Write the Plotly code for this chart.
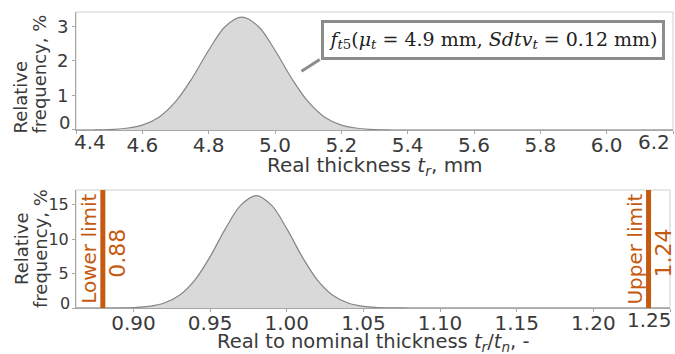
import plotly.graph_objects as go

# ---------------- data ----------------
# top: real thickness (mm) vs relative frequency (%)
x_top = [4.40, 4.45, 4.50, 4.55, 4.60, 4.65, 4.70, 4.75, 4.80, 4.85, 4.90,
         4.95, 5.00, 5.05, 5.10, 5.15, 5.20, 5.25, 5.30, 5.35, 5.40, 6.20]
y_top = [0.00, 0.00, 0.01, 0.05, 0.14, 0.37, 0.82, 1.50, 2.31, 3.00, 3.27,
         3.00, 2.31, 1.50, 0.82, 0.37, 0.14, 0.05, 0.01, 0.00, 0.00, 0.00]

# bottom: real / nominal thickness vs relative frequency (%)
x_bot = [0.86, 0.87, 0.88, 0.89, 0.90, 0.91, 0.92, 0.93, 0.94, 0.95, 0.96, 0.97, 0.98,
         0.99, 1.00, 1.01, 1.02, 1.03, 1.04, 1.05, 1.06, 1.07, 1.08, 1.09, 1.10, 1.25]
y_bot = [0.00, 0.00, 0.00, 0.02, 0.06, 0.23, 0.72, 1.85, 4.05, 7.45, 11.5, 14.9, 16.3,
         14.9, 11.5, 7.45, 4.05, 1.85, 0.72, 0.23, 0.06, 0.02, 0.00, 0.00, 0.00, 0.00]

top_xticks = [4.4, 4.6, 4.8, 5.0, 5.2, 5.4, 5.6, 5.8, 6.0, 6.2]
top_xlabels = ["4.4", "4.6", "4.8", "5.0", "5.2", "5.4", "5.6", "5.8", "6.0", "6.2"]
top_yticks = [0, 1, 2, 3]
top_ylabels = ["0", "1", "2", "3"]
bot_xticks = [0.90, 0.95, 1.00, 1.05, 1.10, 1.15, 1.20, 1.25]
bot_xlabels = ["0.90", "0.95", "1.00", "1.05", "1.10", "1.15", "1.20", "1.25"]
bot_yticks = [0, 5, 10, 15]
bot_ylabels = ["0", "5", "10", "15"]

limits = [0.88, 1.236]
limit_names = ["Lower limit", "Upper limit"]
limit_labels = ["0.88", "1.24"]

top_xtitle = "Real thickness <i>t</i><sub><i>r</i></sub>, mm"
bot_xtitle = "Real to nominal thickness <i>t</i><sub><i>r</i></sub>/<i>t</i><sub><i>n</i></sub>, -"
ytitle_lines = ["Relative", "frequency, %"]
formula = ("<i>f</i><sub><i>t</i>5</sub>(<i>μ</i><sub><i>t</i></sub> = 4.9 mm, "
           "<i>Sdtv</i><sub><i>t</i></sub> = 0.12 mm)")

# ---------------- styling ----------------
TXT = "#3a3a3a"
FILL = "#d9d9d9"
LINE = "#858585"
ORANGE = "#C55A11"
FONT = "DejaVu Sans"

fig = go.Figure()
# top
fig.add_trace(go.Scatter(x=x_top, y=y_top, mode="lines", line=dict(width=0, shape="spline"),
                         fill="tozeroy", fillcolor=FILL, xaxis="x", yaxis="y",
                         showlegend=False, hoverinfo="skip"))
fig.add_trace(go.Scatter(x=x_top, y=y_top, mode="lines", line=dict(color=LINE, width=1.2, shape="spline"),
                         xaxis="x", yaxis="y", showlegend=False))
# bottom
fig.add_trace(go.Scatter(x=x_bot, y=y_bot, mode="lines", line=dict(width=0, shape="spline"),
                         fill="tozeroy", fillcolor=FILL, xaxis="x2", yaxis="y2",
                         showlegend=False, hoverinfo="skip"))
fig.add_trace(go.Scatter(x=x_bot, y=y_bot, mode="lines", line=dict(color=LINE, width=1.2, shape="spline"),
                         xaxis="x2", yaxis="y2", showlegend=False))

def blank_ends(labels, first=False, last=False):
    out = list(labels)
    if first:
        out[0] = ""
    if last:
        out[-1] = ""
    return out

axis_common = dict(showgrid=False, zeroline=False, showline=True, linecolor="#a6a6a6", linewidth=1,
                   ticks="outside", ticklen=3, tickcolor="#a6a6a6", automargin=False,
                   tickfont=dict(family=FONT, size=20, color=TXT))

fig.update_layout(
    width=675, height=354,
    margin=dict(l=76, r=2, t=12, b=46, autoexpand=False),
    paper_bgcolor="white", plot_bgcolor="white",
    xaxis=dict(axis_common, domain=[0, 1], range=[4.4, 6.2], anchor="y",
               tickmode="array", tickvals=top_xticks, ticklabelstandoff=-6,
               ticktext=blank_ends(top_xlabels, True, True)),
    yaxis=dict(axis_common, domain=[0.6014, 1], range=[0, 3.42], anchor="x",
               tickmode="array", tickvals=top_yticks, ticktext=blank_ends(top_ylabels, True),
               tickfont=dict(family=FONT, size=18, color=TXT)),
    xaxis2=dict(axis_common, domain=[0, 0.995], range=[0.8625, 1.25], anchor="y2",
                tickmode="array", tickvals=bot_xticks, ticklabelstandoff=-6,
                ticktext=blank_ends(bot_xlabels, False, True)),
    yaxis2=dict(axis_common, domain=[0, 0.3986], range=[0, 17.1], anchor="x2",
                tickmode="array", tickvals=bot_yticks, ticktext=blank_ends(bot_ylabels, True),
                tickfont=dict(family=FONT, size=16, color=TXT)),
)

shapes = []
# light frame around both plot areas
for xr, yr in (("x", "y"), ("x2", "y2")):
    shapes.append(dict(type="rect", xref=xr + " domain", yref=yr + " domain", x0=0, x1=1, y0=0, y1=1,
                       line=dict(color="#d0d0d0", width=1), layer="below"))
# limit lines
for v in limits:
    shapes.append(dict(type="line", xref="x2", yref="y2 domain", x0=v, x1=v, y0=0, y1=1,
                       line=dict(color=ORANGE, width=5)))
# callout pointer
shapes.append(dict(type="line", xref="x", yref="y", x0=5.135, y0=2.04, x1=5.08, y1=1.70,
                   line=dict(color="#8c8c8c", width=3)))
fig.update_layout(shapes=shapes)

ann = []
# edge tick labels (shifted inward, as in the original)
ann.append(dict(text=top_xlabels[0], xref="x", yref="y domain", x=top_xticks[0], y=0,
                xanchor="left", yanchor="top", yshift=2, xshift=-4, showarrow=False,
                font=dict(family=FONT, size=20, color=TXT)))
ann.append(dict(text=top_xlabels[-1], xref="x", yref="y domain", x=top_xticks[-1], y=0,
                xanchor="right", yanchor="top", yshift=2, xshift=-1, showarrow=False,
                font=dict(family=FONT, size=20, color=TXT)))
ann.append(dict(text=bot_xlabels[-1], xref="x2", yref="y2 domain", x=bot_xticks[-1], y=0,
                xanchor="right", yanchor="top", yshift=2, xshift=4, showarrow=False,
                font=dict(family=FONT, size=20, color=TXT)))
ann.append(dict(text=top_ylabels[0], xref="x domain", yref="y", x=0, y=top_yticks[0],
                xanchor="right", yanchor="bottom", xshift=-4, yshift=-5, showarrow=False,
                font=dict(family=FONT, size=18, color=TXT)))
ann.append(dict(text=bot_ylabels[0], xref="x2 domain", yref="y2", x=0, y=bot_yticks[0],
                xanchor="right", yanchor="bottom", xshift=-4, yshift=-7, showarrow=False,
                font=dict(family=FONT, size=16, color=TXT)))

# x titles
ann.append(dict(text=top_xtitle, xref="x domain", yref="y domain", x=0.5, y=0, yshift=-22,
                xanchor="center", yanchor="top", showarrow=False, borderpad=0,
                font=dict(family=FONT, size=20, color=TXT)))
ann.append(dict(text=bot_xtitle, xref="x2 domain", yref="y2 domain", x=0.5, y=0, yshift=-21,
                xanchor="center", yanchor="top", showarrow=False, borderpad=0,
                font=dict(family=FONT, size=19.5, color=TXT)))

# y titles: two lines each
ann.append(dict(text=ytitle_lines[0], xref="paper", yref="paper", x=0, xshift=-55, y=0.581,
                xanchor="center", yanchor="bottom", textangle=-90, showarrow=False,
                font=dict(family=FONT, size=18, color=TXT)))
ann.append(dict(text=ytitle_lines[1], xref="paper", yref="paper", x=0, xshift=-36, y=0.581,
                xanchor="center", yanchor="bottom", textangle=-90, showarrow=False,
                font=dict(family=FONT, size=18, color=TXT)))
ann.append(dict(text=ytitle_lines[0], xref="paper", yref="y2 domain", x=0, xshift=-55, y=0.5,
                xanchor="center", yanchor="middle", textangle=-90, showarrow=False,
                font=dict(family=FONT, size=18, color=TXT)))
ann.append(dict(text=ytitle_lines[1], xref="paper", yref="y2 domain", x=0, xshift=-36, y=0.5,
                xanchor="center", yanchor="middle", textangle=-90, showarrow=False,
                font=dict(family=FONT, size=18, color=TXT)))

# limit labels
for v, name, lab in zip(limits, limit_names, limit_labels):
    ann.append(dict(text=name, xref="x2", yref="y2 domain", x=v, y=0.5, xshift=-14,
                    xanchor="center", yanchor="middle", textangle=-90, showarrow=False,
                    font=dict(family=FONT, size=20, color=ORANGE)))
    ann.append(dict(text=lab, xref="x2", yref="y2 domain", x=v, y=0.5, xshift=14, yshift=-4,
                    xanchor="center", yanchor="middle", textangle=-90, showarrow=False,
                    font=dict(family=FONT, size=22, color=ORANGE)))

# formula box
ann.append(dict(text=formula,
                xref="paper", yref="paper", x=0.6985, y=0.9054, xanchor="center", yanchor="middle",
                showarrow=False, bgcolor="white", bordercolor="#8c8c8c", borderwidth=3,
                width=336, height=32, borderpad=1,
                font=dict(family="DejaVu Serif", size=19, color="#222222")))
fig.update_layout(annotations=ann)

fig.write_html("out.html")
